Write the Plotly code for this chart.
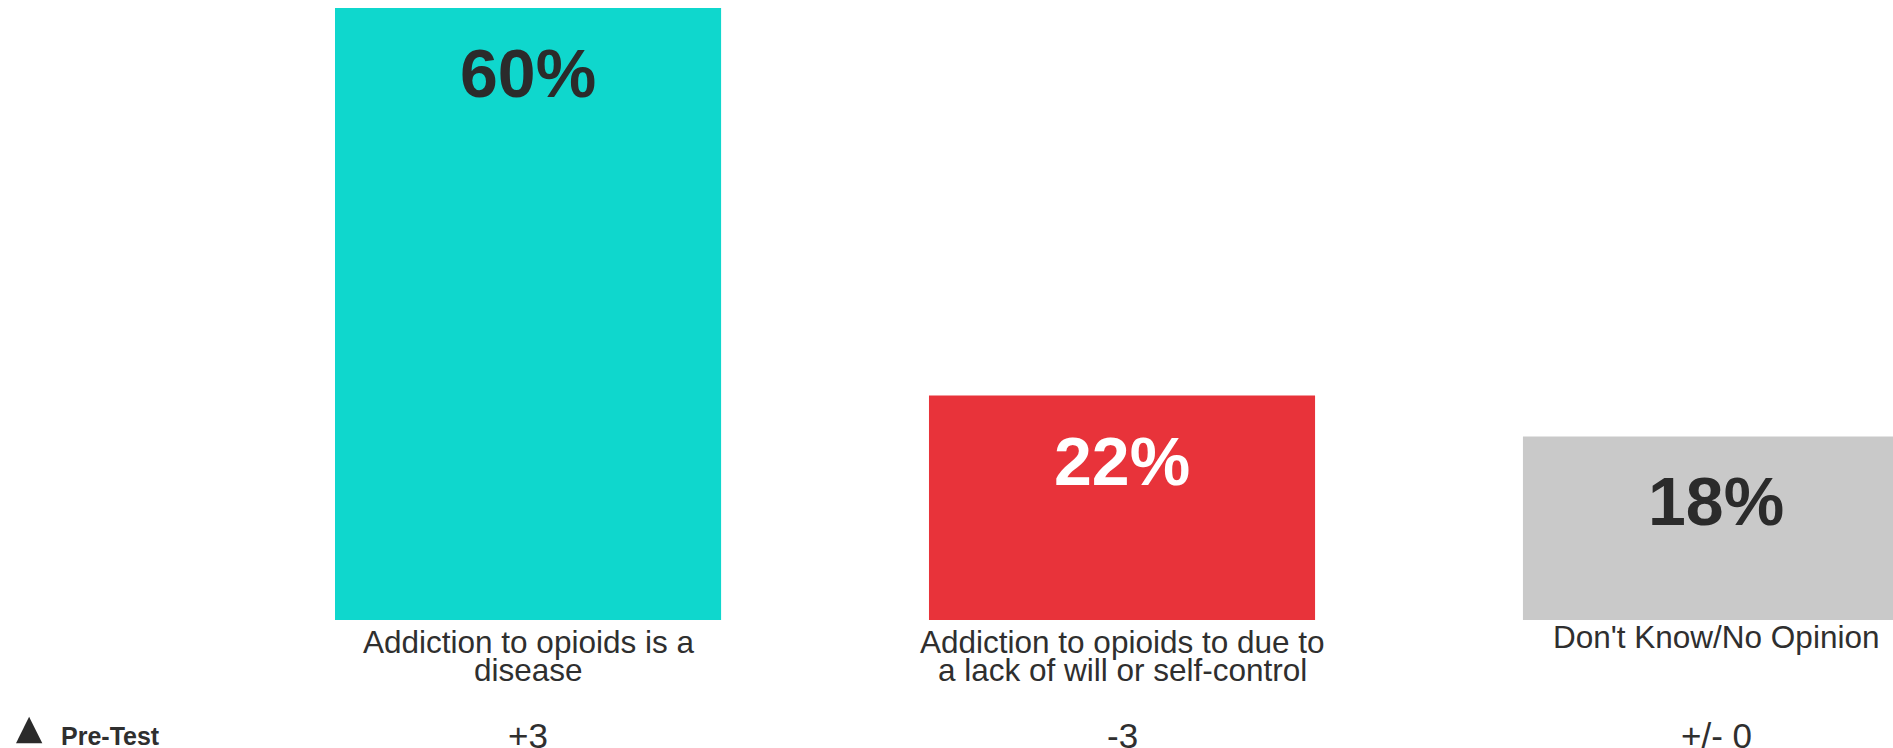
import plotly.graph_objects as go

# Survey responses: "Which statement best describes addiction to opioids?"
categories = [
    "Addiction to opioids is a<br>disease",
    "Addiction to opioids to due to<br>a lack of will or self-control",
    "Don't Know/No Opinion",
]
shares = [60, 22, 18]                      # percent of respondents
changes = ["+3", "-3", "+/- 0"]            # change vs. pre-test
bar_colors = ["#0fd7cd", "#e8333a", "#c9c9c9"]
value_colors = ["#2b2b2b", "#ffffff", "#2b2b2b"]

FONT = "Liberation Sans, Arial, sans-serif"
TEXT = "#2f2f2f"

xs = list(range(len(categories)))

fig = go.Figure(
    go.Bar(
        x=xs,
        y=shares,
        marker=dict(color=bar_colors, line=dict(width=0)),
        hoverinfo="skip",
    )
)

annotations = []

# Percent labels near the top of each bar
for x, v, c in zip(xs, shares, value_colors):
    annotations.append(dict(
        x=x, y=v, xref="x", yref="y",
        text=f"<b>{v}%</b>", showarrow=False,
        xanchor="center", yanchor="top", yshift=-25,
        font=dict(family=FONT, size=68, color=c),
    ))

# Category labels under the bars, with tight line spacing
for x, label in zip(xs, categories):
    lines = label.split("<br>")
    first = 2 if len(lines) == 1 else -3
    for i, line in enumerate(lines):
        annotations.append(dict(
            x=x, y=0, xref="x", yref="y",
            text=line, showarrow=False, borderpad=0,
            xanchor="center", yanchor="top", yshift=first - 28 * i,
            font=dict(family=FONT, size=31.5, color=TEXT),
        ))

# Change from pre-test
for x, ch in zip(xs, changes):
    annotations.append(dict(
        x=x, y=0, xref="x", yref="y",
        text=ch, showarrow=False, borderpad=0,
        xanchor="center", yanchor="top", yshift=-95,
        font=dict(family=FONT, size=35, color=TEXT),
    ))

# Key for the change row
annotations.append(dict(
    x=60 / 1893, y=0, xref="paper", yref="paper",
    text="<b>Pre-Test</b>", showarrow=False, borderpad=0,
    xanchor="left", yanchor="top", yshift=-101,
    font=dict(family=FONT, size=25, color=TEXT),
))

shapes = [dict(
    type="path", xref="paper", yref="paper",
    xsizemode="pixel", ysizemode="pixel", xanchor=0, yanchor=0,
    path="M 16,-123.3 L 42.3,-123.3 L 29.1,-96.7 Z",
    fillcolor="#2b2b2b", line=dict(width=0),
)]

fig.update_layout(
    width=1893, height=748,
    margin=dict(l=0, r=0, t=8, b=128),
    paper_bgcolor="white", plot_bgcolor="white",
    bargap=0.35,
    showlegend=False,
    annotations=annotations,
    shapes=shapes,
    xaxis=dict(range=[-0.889, 2.298], showticklabels=False, showgrid=False,
               zeroline=False, showline=False, ticks=""),
    yaxis=dict(range=[0, 60], showticklabels=False, showgrid=False,
               zeroline=False, showline=False, ticks=""),
)

fig.write_html("out.html")
